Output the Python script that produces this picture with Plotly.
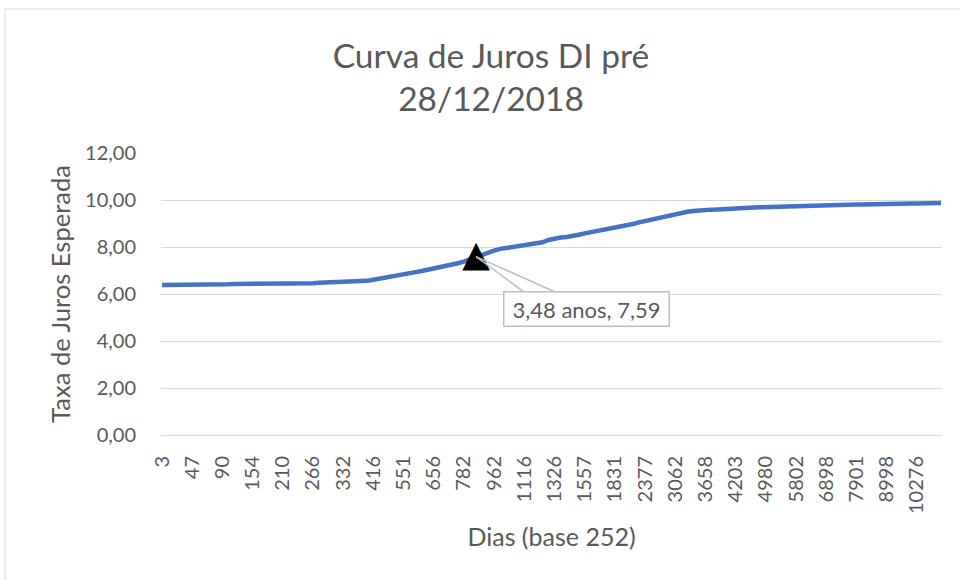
import plotly.graph_objects as go

# Day labels shown on the category axis (every 5th vertex of the curve)
dias_rotulos = [3, 47, 90, 154, 210, 266, 332, 416, 551, 656, 782, 962, 1116,
                1326, 1557, 1831, 2377, 3062, 3658, 4203, 4980, 5802, 6898,
                7901, 8998, 10276]
passo_rotulo = 5

# Expected rate (% a.a.) at each vertex
taxas = [
    6.38, 6.38, 6.38, 6.38, 6.38, 6.38, 6.38, 6.38, 6.38, 6.38,
    6.42, 6.42, 6.43, 6.43, 6.43, 6.43, 6.44, 6.44, 6.44, 6.44, 6.45, 6.45, 6.45, 6.45, 6.45, 6.46,
    6.48, 6.49, 6.49, 6.49, 6.50, 6.50,
    6.52, 6.53,
    6.56, 6.61, 6.65, 6.69, 6.73, 6.78, 6.84, 6.89, 6.93, 6.98, 7.03, 7.07,
    7.12, 7.19, 7.25, 7.31, 7.38, 7.48, 7.59,
    7.68, 7.78, 7.85, 7.92, 7.96, 8.00, 8.04, 8.07, 8.10, 8.13, 8.20, 8.30,
    8.36, 8.40, 8.43, 8.46, 8.52, 8.58, 8.63, 8.67, 8.72, 8.76, 8.80, 8.86, 8.92,
    8.98, 9.05, 9.11, 9.18, 9.25, 9.31, 9.37, 9.42, 9.47, 9.50, 9.53, 9.56, 9.58,
    9.59, 9.60, 9.62, 9.63, 9.65, 9.66, 9.67, 9.68, 9.69, 9.70, 9.71, 9.72, 9.73, 9.74, 9.75,
    9.76, 9.77, 9.77, 9.78, 9.79, 9.79, 9.80, 9.80, 9.80, 9.81, 9.81, 9.82, 9.82, 9.82,
    9.83, 9.84, 9.84, 9.85, 9.85, 9.85, 9.86, 9.86, 9.87, 9.87,
]

# Highlighted vertex
destaque_indice = 52
destaque_anos = "3,48"
destaque_taxa = 7.59

posicoes = list(range(len(taxas)))
tick_pos = posicoes[::passo_rotulo][:len(dias_rotulos)]

cinza = "#595959"
grade = "#D9D9D9"
fonte = "Lato"

fig = go.Figure()
fig.add_trace(go.Scatter(
    x=posicoes, y=taxas, mode="lines",
    line=dict(color="#4472C4", width=4.5),
    hoverinfo="y", showlegend=False,
))
fig.add_trace(go.Scatter(
    x=[destaque_indice], y=[destaque_taxa], mode="text",
    text=["▲"], textposition="middle center",
    textfont=dict(family="DejaVu Sans", size=36, color="black"),
    showlegend=False, hoverinfo="skip",
))

rotulo = f"{destaque_anos} anos, {destaque_taxa:.2f}".replace(".", ",")

fig.update_layout(
    width=960, height=580,
    margin=dict(l=161, r=18, t=153, b=145),
    paper_bgcolor="white", plot_bgcolor="white",
    separators=",.",
    font=dict(family=fonte, color=cinza, size=20),
    title=dict(
        text="Curva de Juros DI pré<br>28/12/2018",
        x=491 / 960, xanchor="center",
        y=1 - 67.5 / 580, yanchor="middle",
        font=dict(family=fonte, size=33.5, color=cinza),
    ),
    xaxis=dict(
        range=[-0.17, len(taxas) - 1 + 0.17],
        tickmode="array", tickvals=tick_pos, ticktext=[str(d) for d in dias_rotulos],
        tickangle=-90, ticks="", ticklabelstandoff=12,
        showgrid=False, zeroline=False,
        showline=True, linecolor=grade, linewidth=1,
        tickfont=dict(family=fonte, size=20, color=cinza),
        title=dict(text="Dias (base 252)", standoff=15,
                   font=dict(family=fonte, size=25, color=cinza)),
    ),
    yaxis=dict(
        range=[0, 12], dtick=2, tickformat=".2f",
        showgrid=True, gridcolor=grade, gridwidth=1,
        zeroline=False, ticks="", ticklabelstandoff=24,
        tickfont=dict(family=fonte, size=20, color=cinza),
        title=dict(text="Taxa de Juros Esperada", standoff=7,
                   font=dict(family=fonte, size=25.5, color=cinza)),
    ),
    shapes=[dict(
        type="rect", xref="paper", yref="paper",
        x0=(5 - 161) / 781, x1=(966 - 161) / 781,
        y0=(435 - 590) / 282, y1=(435 - 9) / 282,
        line=dict(color=grade, width=1), fillcolor="rgba(0,0,0,0)", layer="below",
    )],
    annotations=[
        dict(x=destaque_indice, y=destaque_taxa, xref="x", yref="y", text="",
             showarrow=True, arrowhead=0, arrowwidth=1.5, arrowcolor="#BFBFBF",
             ax=57, ay=42, standoff=0),
        dict(x=destaque_indice, y=destaque_taxa, xref="x", yref="y", text="",
             showarrow=True, arrowhead=0, arrowwidth=1.5, arrowcolor="#BFBFBF",
             ax=94, ay=42, standoff=0),
        dict(x=destaque_indice, y=destaque_taxa, xref="x", yref="y", text=rotulo,
             showarrow=False, xshift=110, yshift=-52,
             bgcolor="white", bordercolor="#BFBFBF", borderwidth=1.5, borderpad=3,
             width=158, font=dict(family=fonte, size=22, color=cinza)),
    ],
)

fig.write_html("out.html", config={"displayModeBar": False},
               post_script="document.body.style.margin='0';")
